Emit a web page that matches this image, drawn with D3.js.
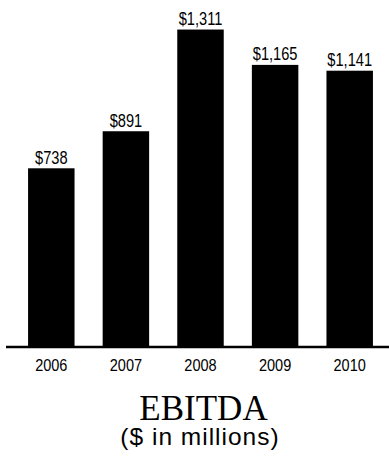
<!DOCTYPE html>
<html>
<head>
<meta charset="utf-8">
<script src="https://cdn.jsdelivr.net/npm/d3@7"></script>
<style>
  html, body { margin: 0; padding: 0; background: #fff; }
  svg { display: block; }
  .narrow { font-family: "Liberation Sans Narrow", "Arial Narrow", "Liberation Sans", Arial, sans-serif; }
</style>
</head>
<body>
<div id="chart"></div>
<script>
const years = ["2006", "2007", "2008", "2009", "2010"];
const ebitda = [738, 891, 1311, 1165, 1141];
const valueLabels = ["$738", "$891", "$1,311", "$1,165", "$1,141"];
const title = "EBITDA";
const subtitle = "($ in millions)";

const W = 389, H = 457;
const baseY = 347;

const svg = d3.select("#chart").append("svg")
  .attr("width", W).attr("height", H);

const x = d3.scaleBand()
  .domain(years)
  .range([14, 387])
  .paddingInner(0.377)
  .paddingOuter(0.377 / 2);

const y = d3.scaleLinear()
  .domain([0, 1433])
  .range([baseY, 0]);

const data = years.map((yr, i) => ({ yr, v: ebitda[i], label: valueLabels[i] }));

svg.selectAll("rect.bar")
  .data(data)
  .join("rect")
  .attr("class", "bar")
  .attr("x", d => x(d.yr))
  .attr("y", d => y(d.v))
  .attr("width", x.bandwidth())
  .attr("height", d => y(0) - y(d.v))
  .attr("fill", "#000");

// value labels, condensed horizontally
svg.selectAll("g.val")
  .data(data)
  .join("g")
  .attr("class", "val")
  .attr("transform", d => `translate(${x(d.yr) + x.bandwidth() / 2},${y(d.v) - 4.5})`)
  .append("text")
  .attr("class", "narrow")
  .attr("transform", "scale(0.79,1)")
  .attr("text-anchor", "middle")
  .attr("font-size", 18.5)
  .attr("fill", "#000")
  .text(d => d.label);

// baseline axis with year labels
const axis = svg.append("g")
  .attr("transform", `translate(0,${baseY})`)
  .call(d3.axisBottom(x).tickSize(0));
axis.attr("font-family", null);
axis.select(".domain").remove();
axis.selectAll("text")
  .attr("class", "narrow")
  .attr("transform", "scale(0.88,1)")
  .attr("y", 24)
  .attr("dy", null)
  .attr("font-size", 16.5)
  .attr("fill", "#000");

svg.append("line")
  .attr("x1", 6).attr("x2", W)
  .attr("y1", baseY).attr("y2", baseY)
  .attr("stroke", "#000")
  .attr("stroke-width", 2.5);

svg.append("text")
  .attr("x", 203.5).attr("y", 420)
  .attr("text-anchor", "middle")
  .attr("font-family", "'Liberation Serif', 'DejaVu Serif', serif")
  .attr("font-size", 35)
  .attr("fill", "#000")
  .text(title);

svg.append("text")
  .attr("x", 200).attr("y", 445)
  .attr("text-anchor", "middle")
  .attr("font-family", "'Liberation Sans', Arial, sans-serif")
  .attr("font-size", 24.5)
  .attr("letter-spacing", 1)
  .attr("fill", "#000")
  .text(subtitle);
</script>
</body>
</html>
